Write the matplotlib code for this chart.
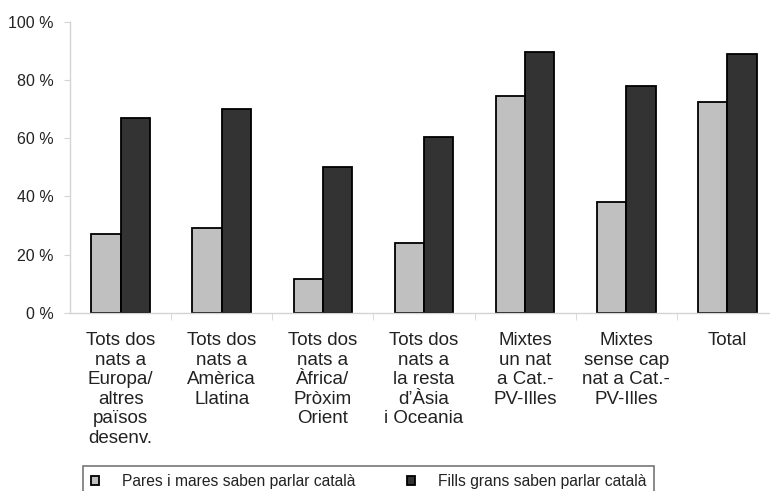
import matplotlib.pyplot as plt
from matplotlib.patches import Patch
import numpy as np

plt.rcParams['font.family'] = ['Liberation Sans', 'DejaVu Sans']

# Share of families where each group can speak Catalan (%)
categories = [
    "Tots dos\nnats a\nEuropa/\naltres\npaïsos\ndesenv.",
    "Tots dos\nnats a\nAmèrica\nLlatina",
    "Tots dos\nnats a\nÀfrica/\nPròxim\nOrient",
    "Tots dos\nnats a\nla resta\nd’Àsia\ni Oceania",
    "Mixtes\nun nat\na Cat.-\nPV-Illes",
    "Mixtes\nsense cap\nnat a Cat.-\nPV-Illes",
    "Total",
]
pares = [27, 29, 11.5, 24, 74.5, 38, 72.5]
fills = [67, 70, 50, 60.5, 89.5, 78, 89]
series_labels = ["Pares i mares saben parlar català", "Fills grans saben parlar català"]
yticks = [0, 20, 40, 60, 80, 100]

light = "#c0c0c0"
dark = "#333333"
axis_grey = "#d4d4d4"
text_col = "#222222"

fig = plt.figure(figsize=(7.7, 4.91), dpi=100)
ax = fig.add_axes([70 / 770, 1 - 313 / 491, 708 / 770, 291.5 / 491])

x = np.arange(len(categories))
w = 0.29
ax.bar(x - w / 2, pares, width=w, color=light, edgecolor="black", linewidth=1.3)
ax.bar(x + w / 2, fills, width=w, color=dark, edgecolor="black", linewidth=1.3)

ax.set_xlim(-0.5, len(categories) - 0.5)
ax.set_ylim(0, 100)
ax.set_yticks(yticks)
ax.set_yticklabels([f"{v} %" for v in yticks], fontsize=11.5, color=text_col)

# category labels sit below the axis, boundaries get the tick marks
ax.set_xticks(x)
ax.set_xticklabels(categories, fontsize=13.5, color=text_col, va="top", linespacing=1.19)
ax.tick_params(axis="x", length=0, pad=14)
ax.set_xticks(np.arange(len(categories)) + 0.5, minor=True)
ax.tick_params(axis="x", which="minor", length=5, color=axis_grey, direction="out")
ax.tick_params(axis="y", length=4, color=axis_grey, pad=8)

for side in ["top", "right"]:
    ax.spines[side].set_visible(False)
for side in ["left", "bottom"]:
    ax.spines[side].set_color(axis_grey)
    ax.spines[side].set_linewidth(1)

handles = [
    Patch(facecolor=light, edgecolor="black", linewidth=1.3),
    Patch(facecolor=dark, edgecolor="black", linewidth=1.3),
]
leg = fig.legend(handles, series_labels, loc="upper left",
                 bbox_to_anchor=(83 / 770, 1 - 466 / 491), ncol=2,
                 fontsize=11.25, frameon=True, fancybox=False,
                 handlelength=0.5, handleheight=0.5, handletextpad=1.5,
                 columnspacing=3.3, borderpad=0.5, borderaxespad=0,
                 labelcolor=text_col)
leg.get_frame().set_edgecolor("#555555")
leg.get_frame().set_linewidth(1.2)

fig.savefig("out.png", dpi=100)
